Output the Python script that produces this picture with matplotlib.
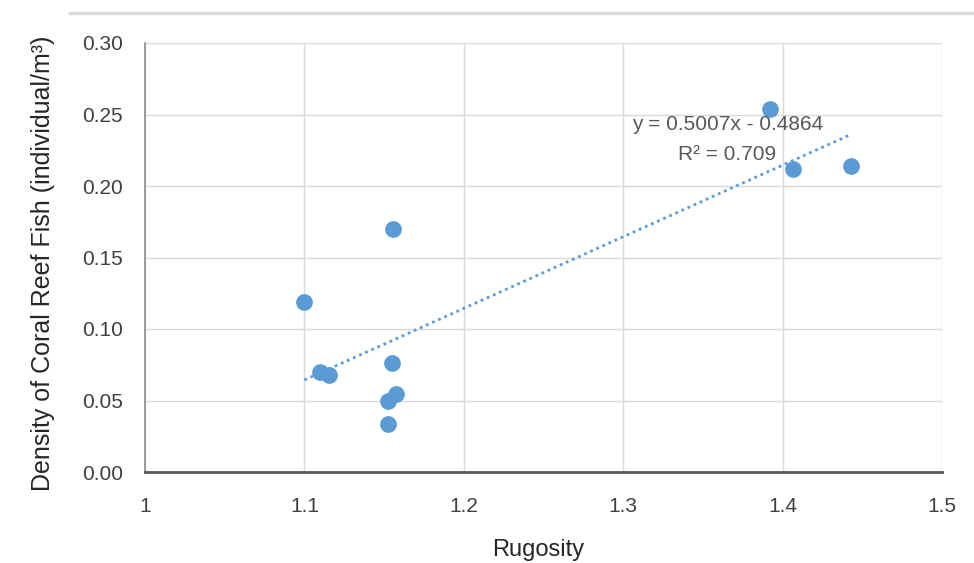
import matplotlib
matplotlib.use("Agg")
import matplotlib.pyplot as plt
import numpy as np

rugosity = [1.100, 1.1555, 1.1097, 1.1154, 1.1549, 1.1574, 1.1524, 1.1524, 1.3918, 1.4063, 1.4426]
density = [0.119, 0.170, 0.070, 0.068, 0.076, 0.0545, 0.0497, 0.0336, 0.254, 0.212, 0.214]
slope = 0.5007
intercept = -0.4864
r2 = 0.709
xticks = [1.0, 1.1, 1.2, 1.3, 1.4, 1.5]
xticklabels = ["1", "1.1", "1.2", "1.3", "1.4", "1.5"]
yticks = [0.00, 0.05, 0.10, 0.15, 0.20, 0.25, 0.30]

plt.rcParams['font.family'] = ['Liberation Sans Narrow', 'Liberation Sans', 'DejaVu Sans']

fig = plt.figure(figsize=(9.74, 5.63), dpi=100)
W, H = 974, 563
ax = fig.add_axes([145 / W, 1 - 472 / H, (942 - 145) / W, (472 - 43) / H])

blue = "#5B9BD5"
grid = "#D9D9D9"
ax.set_xlim(1.0, 1.5)
ax.set_ylim(0.0, 0.30)
ax.set_xticks(xticks)
ax.set_xticklabels(xticklabels)
ax.set_yticks(yticks)
ax.set_yticklabels([f"{v:.2f}" for v in yticks])
ax.grid(True, color=grid, linewidth=1)
ax.set_axisbelow(True)
for s in ["top", "right"]:
    ax.spines[s].set_visible(False)
ax.spines["left"].set_color("#8C8C8C")
ax.spines["left"].set_linewidth(1.2)
ax.spines["bottom"].set_color("#595959")
ax.spines["bottom"].set_linewidth(2)
ax.tick_params(length=0, labelsize=15, colors="#404040")
ax.tick_params(axis="y", pad=16)
ax.tick_params(axis="x", pad=18)

xs = np.array([min(rugosity), max(rugosity)])
ax.plot(xs, slope * xs + intercept, linestyle=(0, (1, 1.4)), color=blue, linewidth=2, zorder=2)
ax.scatter(rugosity, density, s=145, color=blue, zorder=3, linewidths=0)

ax.text(1.3655, 0.2427, f"y = {slope:.4f}x - {abs(intercept):.4f}", fontsize=15,
        color="#595959", ha="center", va="center", zorder=4)
ax.text(1.3650, 0.2217, f"R² = {r2:.3f}", fontsize=15, color="#595959",
        ha="center", va="center", zorder=4)

ax.set_xlabel("Rugosity", fontsize=17, color="#262626", va="center")
ax.xaxis.set_label_coords((538 - 145) / 797, (472 - 550) / 429)
ax.set_ylabel("Density of Coral Reef Fish (individual/m³)", fontsize=18, color="#262626", va="center")
ax.yaxis.set_label_coords((43 - 145) / 797, (472 - 263) / 429)

# top border line
fig.add_artist(plt.Line2D([70 / W, 1], [1 - 13 / H, 1 - 13 / H], color="#D9D9D9", linewidth=2.5))

fig.savefig("out.png", dpi=100)
